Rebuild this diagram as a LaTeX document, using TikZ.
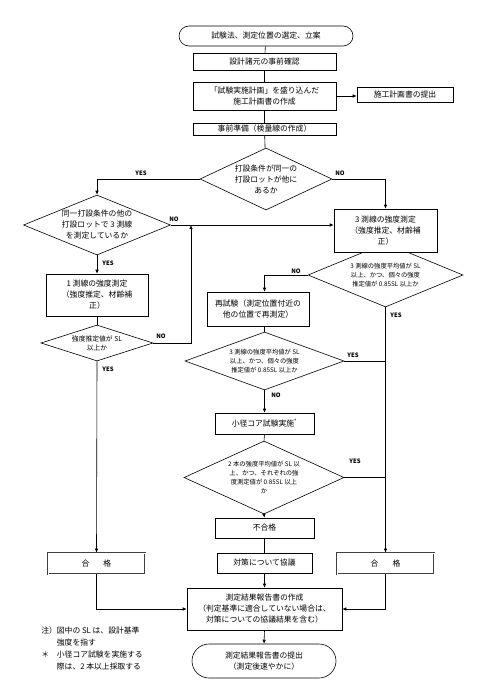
\documentclass[tikz,border=0pt]{standalone}
\usepackage{fontspec}
\setmainfont{Noto Sans CJK JP}
\usetikzlibrary{arrows.meta,shapes.geometric,shapes.misc}

\newcommand{\txtbox}{\fontsize{7.8pt}{11pt}\selectfont}
\newcommand{\txtmid}{\fontsize{6.8pt}{9pt}\selectfont}
\newcommand{\txtsml}{\fontsize{6.3pt}{9.2pt}\selectfont}

\begin{document}
\begin{tikzpicture}[
    x=1pt, y=-1pt,
    line width=0.6pt,
    box/.style={draw, fill=white, align=center, inner sep=0pt, font=\txtbox},
    pill/.style={box, rounded rectangle},
    okbox/.style={box, double, double distance=1pt, line width=0.7pt, draw=black!75},
    dia/.style={draw, diamond, inner sep=0pt},
    dtxt/.style={align=center, inner sep=0pt},
    lab/.style={font=\fontsize{6pt}{7pt}\selectfont\bfseries, inner sep=0pt},
    arr/.style={-{Latex[length=4pt,width=3.5pt]}},
  ]

  \useasboundingbox (0,0) rectangle (476,695);

  % ---- colonna centrale in alto ---------------------------------------------
  \node[pill, minimum width=174pt, minimum height=20pt] (start) at (266,36)
    {試験法、測定位置の選定、立案};
  \node[box, minimum width=143pt, minimum height=17pt] (kakunin) at (264.5,61.5)
    {設計諸元の事前確認};
  \node[box, minimum width=143pt, minimum height=28pt] (keikaku) at (264.5,96)
    {「試験実施計画」を盛り込んだ\\施工計画書の作成};
  \node[box, minimum width=96pt, minimum height=15pt] (teishutsu) at (405,94.5)
    {施工計画書の提出};
  \node[box, minimum width=143pt, minimum height=12pt] (junbi) at (264.5,129)
    {事前準備（検量線の作成）};

  % ---- primo rombo e i due rami ---------------------------------------------
  \node[dia, minimum width=132pt, minimum height=62pt] (d1) at (266,179) {};
  \node[dtxt, font=\txtbox] (d1t) at (d1) {打設条件が同一の\\打設ロットが他に\\あるか};

  \node[dia, minimum width=147pt, minimum height=60pt] (d2) at (97,225) {};
  \node[dtxt, font=\txtbox] (d2t) at (d2) {同一打設条件の他の\\打設ロットで 3 測線\\を測定しているか};

  % il rombo d4 sta sotto il riquadro a tre linee (vertice nascosto)
  \node[dia, minimum width=155pt, minimum height=64pt] (d4) at (385.5,275) {};
  \node[dtxt, font=\txtsml] (d4t) at (d4) {3 測線の強度平均値が SL\\以上、かつ、個々の強度\\推定値が 0.85SL 以上か};

  \node[box, minimum width=103pt, minimum height=43pt] (sokutei3) at (385.5,230.5)
    {3 測線の強度測定\\（強度推定、材齢補\\正）};

  % ---- ramo sinistro --------------------------------------------------------
  \node[box, minimum width=102pt, minimum height=42pt] (sokutei1) at (97,295)
    {1 測線の強度測定\\（強度推定、材齢補\\正）};
  \node[dia, minimum width=112pt, minimum height=36pt] (d3) at (97,343) {};
  \node[dtxt, font=\txtmid] (d3t) at (d3) {強度推定値が SL\\以上か};
  \node[okbox, minimum width=97pt, minimum height=21pt] (goukakuL) at (96.5,563.5)
    {合\hspace{14pt}格};

  % ---- ramo centrale: riprova e carota --------------------------------------
  \node[box, minimum width=102pt, minimum height=34pt] (retest) at (258,309)
    {再試験（測定位置付近の\\他の位置で再測定）};
  \node[dia, minimum width=159pt, minimum height=58pt] (d5) at (264.5,361) {};
  \node[dtxt, font=\txtsml] (d5t) at (d5) {3 測線の強度平均値が SL\\以上、かつ、個々の強度\\推定値が 0.85SL 以上か};
  \node[box, minimum width=99pt, minimum height=21pt] (kokoa) at (264.5,423.5)
    {小径コア試験実施\textsuperscript{*}};
  \node[dia, minimum width=160pt, minimum height=73pt] (d6) at (264,477.5) {};
  \node[dtxt, font=\txtsml] (d6t) at (d6) {2 本の強度平均値が SL 以\\上、かつ、それぞれの強\\度測定値が 0.85SL 以上\\か};
  \node[box, minimum width=99pt, minimum height=20pt] (fugoukaku) at (264.5,528)
    {不合格};
  \node[box, minimum width=95pt, minimum height=20pt] (taisaku) at (264.5,563)
    {対策について協議};
  \node[okbox, minimum width=97pt, minimum height=21pt] (goukakuR) at (385.5,563.5)
    {合\hspace{14pt}格};

  % ---- in fondo --------------------------------------------------------------
  \node[box, minimum width=155pt, minimum height=42pt] (houkoku) at (264.5,609)
    {測定結果報告書の作成\\（判定基準に適合していない場合は、\\対策についての協議結果を含む）};
  \node[pill, minimum width=144pt, minimum height=34pt] (owari) at (264,661)
    {測定結果報告書の提出\\（測定後速やかに）};

  \node[anchor=north west, inner sep=0pt, font=\txtbox] (note) at (41,625)
    {\renewcommand{\arraystretch}{1.08}%
     \begin{tabular}{@{}l@{}l@{}}
       注）& 図中の SL は、設計基準\\
           & 強度を指す\\
       ＊  & 小径コア試験を実施する\\
           & 際は、2 本以上採取する
     \end{tabular}};

  % ---- collegamenti ----------------------------------------------------------
  \coordinate (jn) at (191,225);

  \draw (start) -- (kakunin);
  \draw (kakunin) -- (keikaku);
  \draw[arr] (keikaku.east) -- (keikaku.east -| teishutsu.west);
  \draw (keikaku) -- (junbi);
  \draw (junbi) -- (d1);

  \draw[arr] (d1.west) -| (d2.north);
  \draw[arr] (d1.east) -| (sokutei3.north);
  \draw[arr] (d2.east) -- (d2.east -| sokutei3.west);
  \draw[arr] (d2.south) -- (sokutei1.north);
  \draw (sokutei1.south) -- (d3.north);
  \draw[arr] (d3.east) -| (jn);
  \draw[arr] (d3.south) -- (goukakuL.north);

  \draw[arr] (d4.west) -| (d5.north |- retest.north);
  \draw[arr] (d4.south) -- (goukakuR.north);
  \draw (d5.north |- retest.south) -- (d5.north);
  \draw (d5.east) -- (d5.east -| goukakuR.north);
  \draw[arr] (d5.south) -- (kokoa.north);
  \draw (kokoa.south) -- (d6.north);
  \draw (d6.east) -- (d6.east -| goukakuR.north);
  \draw[arr] (d6.south) -- (fugoukaku.north);
  \draw (fugoukaku.south) -- (taisaku.north);
  \draw[arr] (taisaku.south) -- (houkoku.north);
  \draw[arr] (goukakuL.south) |- (houkoku.west);
  \draw[arr] (goukakuR.south) |- (houkoku.east);
  \draw[arr] (houkoku.south) -- (owari.north);

  % ---- etichette YES / NO ----------------------------------------------------
  \node[lab] (y1) at (141,173) {YES};
  \node[lab] (n1) at (340,173) {NO};
  \node[lab] (n2) at (174,219) {NO};
  \node[lab] (y2) at (108,263) {YES};
  \node[lab] (n3) at (161,336) {NO};
  \node[lab] (y3) at (108,369) {YES};
  \node[lab] (n4) at (296,271) {NO};
  \node[lab] (y4) at (396,315) {YES};
  \node[lab] (y5) at (353,355) {YES};
  \node[lab] (n5) at (276,395) {NO};
  \node[lab] (y6) at (355,461) {YES};

\end{tikzpicture}
\end{document}
